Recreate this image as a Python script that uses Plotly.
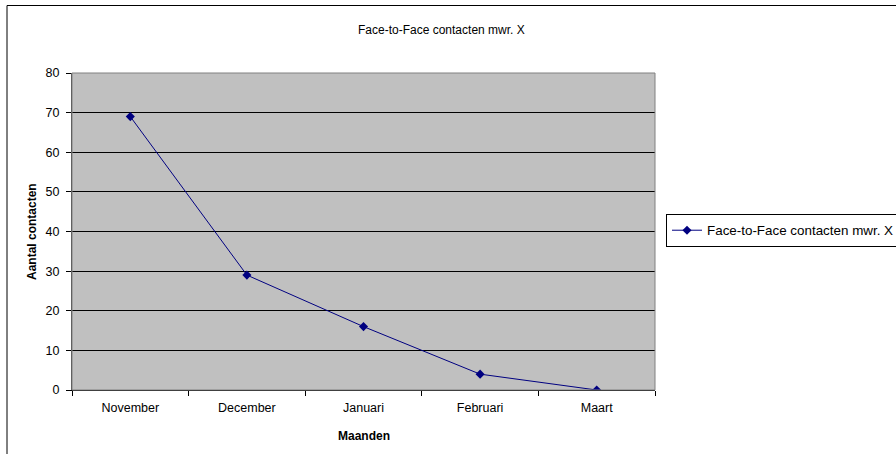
import plotly.graph_objects as go

months = ["November", "December", "Januari", "Februari", "Maart"]
contacts = [69, 29, 16, 4, 0]
series_name = "Face-to-Face contacten mwr. X"
y_ticks = [0, 10, 20, 30, 40, 50, 60, 70, 80]

W, H = 896, 454
L, R, T, B = 72, 655, 73, 390
pw, ph = R - L, B - T

def px(x):
    return (x - L) / pw

def py(y):
    return (B - y) / ph

font = "Liberation Sans, Arial, sans-serif"

fig = go.Figure()
fig.add_trace(go.Scatter(
    x=months, y=contacts, mode="lines+markers", name=series_name,
    line=dict(color="#000080", width=1),
    marker=dict(symbol="diamond", size=7, color="#000080"),
))

fig.update_layout(
    width=W, height=H,
    margin=dict(l=L, r=W - R, t=T, b=H - B, autoexpand=False),
    paper_bgcolor="white",
    plot_bgcolor="#C0C0C0",
    font=dict(family=font, size=12, color="black"),
    showlegend=True,
    legend=dict(
        x=px(666), y=py(230.5), xanchor="left", yanchor="middle",
        bgcolor="white", bordercolor="black", borderwidth=1,
        font=dict(family=font, size=13.4, color="black"),
        itemwidth=30, tracegroupgap=0,
    ),
    xaxis=dict(
        type="category", tickson="boundaries", ticks="outside", ticklen=5,
        tickcolor="black", showgrid=False, showline=True, linecolor="black",
        linewidth=1, tickfont=dict(size=12.5), range=[-0.5, 4.5],
        zeroline=False, fixedrange=True, ticklabelstandoff=6,
    ),
    yaxis=dict(
        range=[0, 80], tickvals=y_ticks, ticks="outside", ticklen=5,
        tickcolor="black", showgrid=True, gridcolor="black", gridwidth=1,
        showline=True, linecolor="#404040", linewidth=1,
        tickfont=dict(size=12.5), zeroline=False, fixedrange=True,
        ticklabelstandoff=4,
    ),
    shapes=[
        dict(type="rect", xref="paper", yref="paper",
             x0=px(7), x1=px(905), y0=py(462), y1=py(5.5),
             line=dict(color="black", width=1), fillcolor="rgba(0,0,0,0)",
             layer="below"),
        dict(type="rect", xref="paper", yref="paper",
             x0=0, x1=1, y0=0, y1=1,
             line=dict(color="#808080", width=1), fillcolor="rgba(0,0,0,0)"),
    ],
    annotations=[
        dict(text=series_name, xref="paper", yref="paper",
             x=px(441), y=py(30), xanchor="center", yanchor="middle",
             showarrow=False, font=dict(size=12)),
        dict(text="<b>Aantal contacten</b>", xref="paper", yref="paper",
             x=px(32), y=py(232), xanchor="center", yanchor="middle",
             textangle=-90, showarrow=False, font=dict(size=12)),
        dict(text="<b>Maanden</b>", xref="paper", yref="paper",
             x=px(364), y=py(436), xanchor="center", yanchor="middle",
             showarrow=False, font=dict(size=12)),
    ],
)

fig.write_html("out.html", config={"displayModeBar": False},
               post_script="document.body.style.margin='0';")
